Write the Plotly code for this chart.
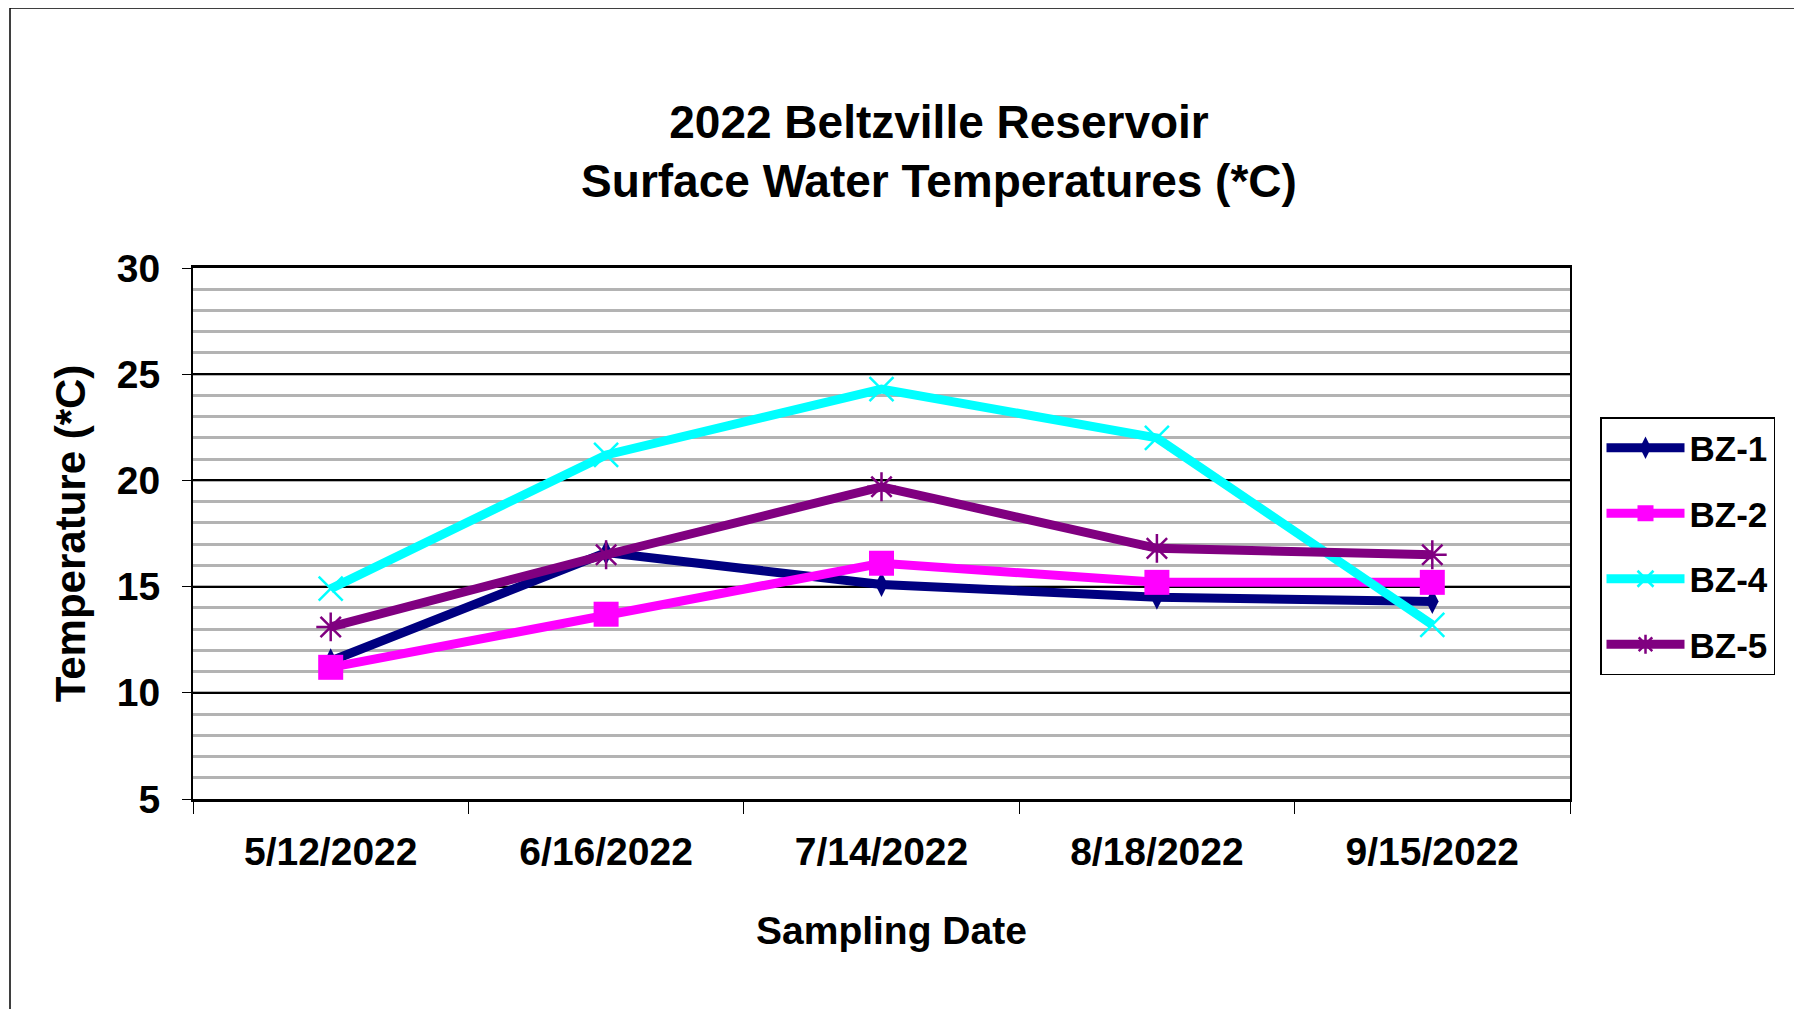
import plotly.graph_objects as go

dates = ["5/12/2022", "6/16/2022", "7/14/2022", "8/18/2022", "9/15/2022"]
bz1 = [11.5, 16.6, 15.1, 14.5, 14.3]
bz2 = [11.2, 13.7, 16.1, 15.2, 15.2]
bz4 = [14.9, 21.2, 24.3, 22.0, 13.2]
bz5 = [13.1, 16.5, 19.7, 16.8, 16.5]
series_names = ["BZ-1", "BZ-2", "BZ-4", "BZ-5"]
y_ticks = [5, 10, 15, 20, 25, 30]

FONT = "Liberation Sans, Arial, sans-serif"
W, H = 1802, 1009
L, R, T, B = 185, 240, 260, 218
PW, PH = W - L - R, H - T - B

styles = [
    dict(color="#000080", symbol="diamond-tall", size=18, lw=0),
    dict(color="#FF00FF", symbol="square", size=25, lw=0),
    dict(color="#00FFFF", symbol="x-thin-open", size=24, lw=2.5),
    dict(color="#800080", symbol="asterisk-open", size=24, lw=2.5),
]

fig = go.Figure()
for name, vals, st in zip(series_names, [bz1, bz2, bz4, bz5], styles):
    fig.add_trace(go.Scatter(
        x=dates, y=vals, name=name, mode="lines+markers", legendgroup=name,
        line=dict(color=st["color"], width=9),
        marker=dict(symbol=st["symbol"], size=st["size"], color=st["color"],
                    line=dict(width=st["lw"], color=st["color"])),
    ))

def px2paper_x(px):
    return (px - L) / PW

def px2paper_y(py):
    return (H - B - py) / PH

fig.update_layout(
    width=W, height=H,
    margin=dict(l=L, r=R, t=T, b=B),
    paper_bgcolor="white", plot_bgcolor="white",
    font=dict(family=FONT, color="black", weight="bold"),
    title=dict(text="2022 Beltzville Reservoir<br>Surface Water Temperatures (*C)",
               x=931 / W, xanchor="center", xref="container",
               y=1 - 129.5 / H, yanchor="middle", yref="container",
               font=dict(size=46, family=FONT, color="black", weight="bold")),
    legend=dict(x=px2paper_x(1592), y=px2paper_y(409), xanchor="left", yanchor="top",
                bordercolor="black", borderwidth=1.5, bgcolor="white",
                font=dict(size=35, family=FONT, color="black", weight="bold"),
                tracegroupgap=17, itemwidth=78, entrywidth=98),
    showlegend=True,
)

fig.update_xaxes(
    type="category", range=[-0.5, 4.5], tickson="boundaries", ticks="outside", ticklen=12,
    tickwidth=1, tickcolor="black", showgrid=False, showline=True, linecolor="black",
    linewidth=3, mirror=True, ticklabelstandoff=16,
    tickfont=dict(size=39, family=FONT, weight="bold"),
)
fig.update_yaxes(
    range=[5, 30], tickvals=y_ticks, ticks="outside", ticklen=9, tickwidth=1, tickcolor="black",
    showgrid=True, gridcolor="black", gridwidth=1.5, zeroline=False,
    showline=True, linecolor="black", linewidth=2, mirror=True, ticklabelstandoff=14,
    minor=dict(dtick=1, showgrid=True, gridcolor="#b3b3b3", gridwidth=3, ticks=""),
    tickfont=dict(size=39, family=FONT, weight="bold"),
    title=dict(text="Temperature (*C)", font=dict(size=42, family=FONT, weight="bold"), standoff=18),
)

fig.add_annotation(text="Sampling Date", xref="paper", yref="paper",
                   x=px2paper_x(883), y=px2paper_y(922), xanchor="center", yanchor="middle",
                   showarrow=False, font=dict(size=39, family=FONT, color="black", weight="bold"))

fig.add_shape(type="rect", xref="paper", yref="paper",
              x0=px2paper_x(2), x1=px2paper_x(1791), y0=px2paper_y(1030), y1=px2paper_y(0),
              line=dict(color="black", width=1.5), fillcolor="rgba(0,0,0,0)", layer="below")

fig.write_html("out.html")
